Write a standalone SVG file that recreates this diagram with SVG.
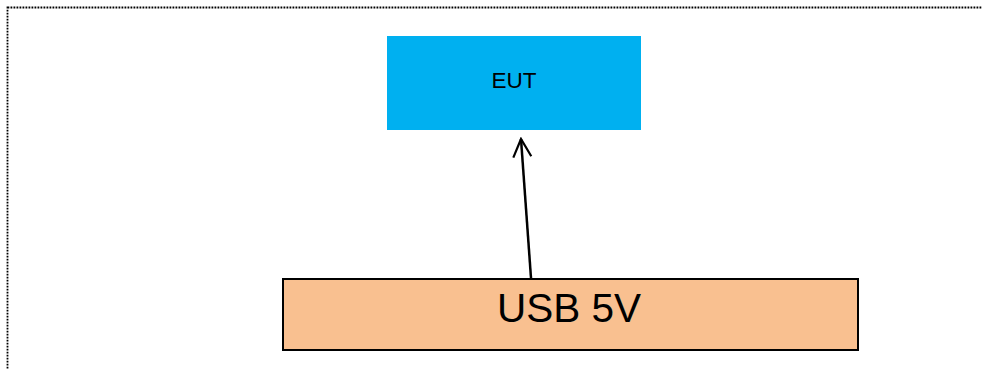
<svg xmlns="http://www.w3.org/2000/svg" width="982" height="369" viewBox="0 0 982 369">
<style>
text{font-family:"Liberation Sans",Arial,sans-serif;fill:#000;text-anchor:middle}
.conn{stroke:#000;stroke-width:2.5;fill:none}
</style>
<defs>
<marker id="open" viewBox="0 0 24 24" refX="22" refY="12" markerWidth="24" markerHeight="24" markerUnits="userSpaceOnUse" orient="auto">
<path d="M4,3 L22,12 L4,21" fill="none" stroke="#000" stroke-width="2.2"/>
</marker>
</defs>
<rect width="982" height="369" fill="#fff"/>
<rect x="7.5" y="7.5" width="1000" height="400" fill="none" stroke="#000" stroke-width="1.8" stroke-dasharray="1.8 1.2"/>
<g id="eut">
<rect x="387" y="36" width="254" height="94" fill="#00B0F0"/>
<text x="514" y="88" font-size="22.5">EUT</text>
</g>
<g id="usb">
<rect x="283" y="279" width="575" height="71" fill="#F9C090" stroke="#000" stroke-width="2"/>
<text x="569" y="322" font-size="40.5">USB 5V</text>
</g>
<g id="connectors">
<line class="conn" x1="531" y1="278" x2="521" y2="139" marker-end="url(#open)"/>
</g>
</svg>
